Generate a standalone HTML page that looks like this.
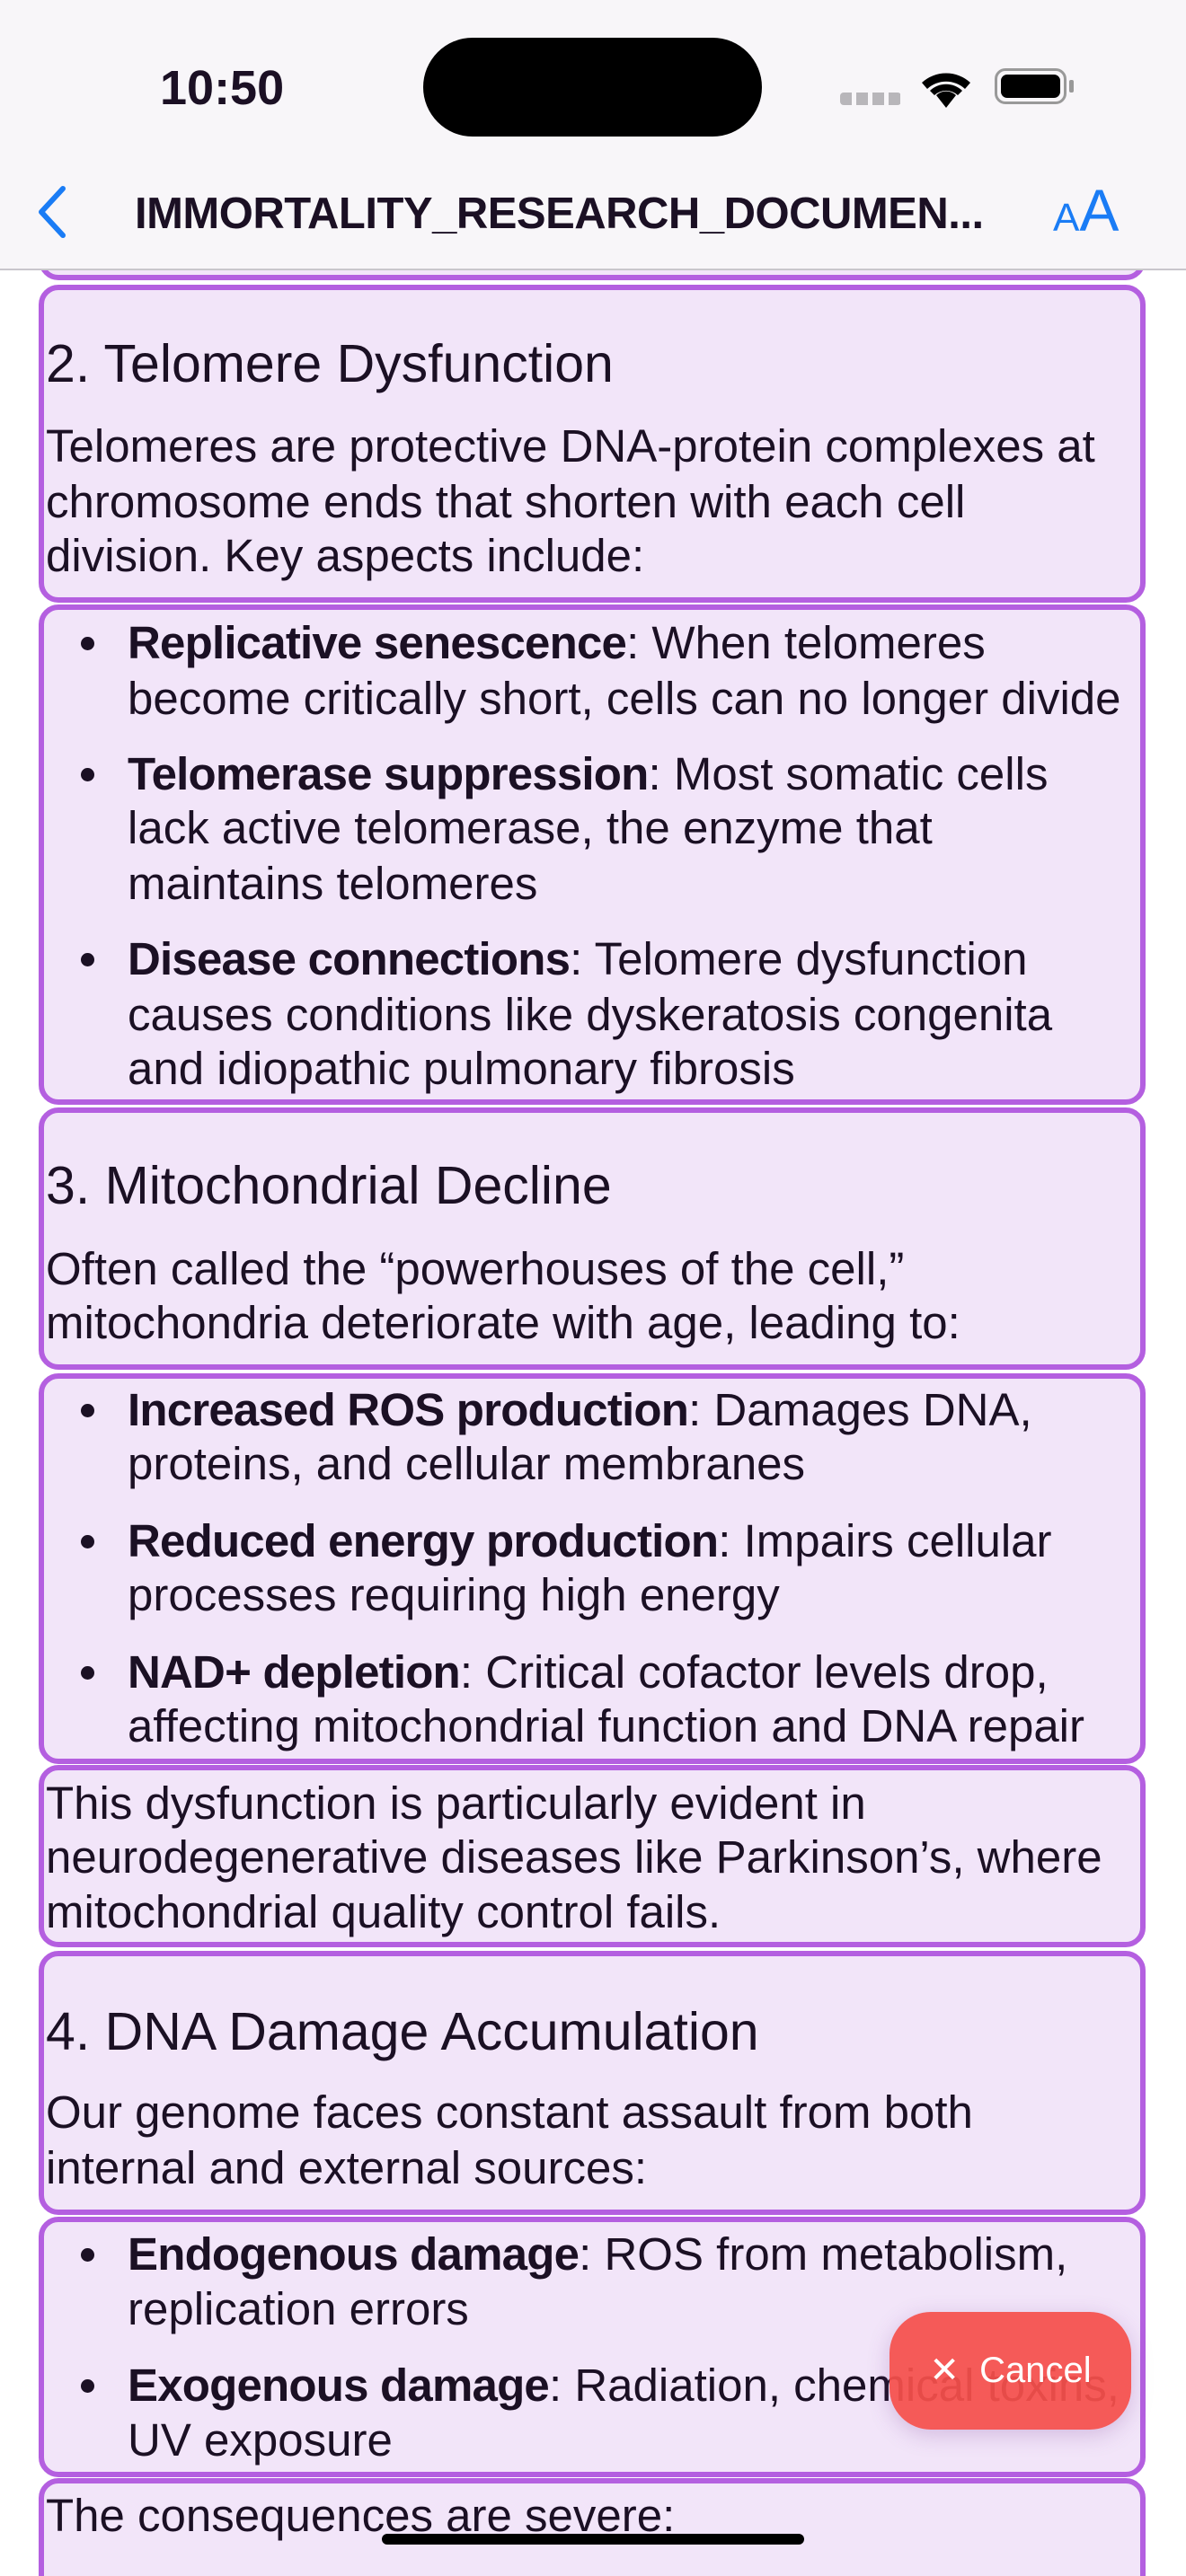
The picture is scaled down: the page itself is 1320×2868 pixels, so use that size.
<!DOCTYPE html>
<html><head><meta charset="utf-8"><style>
*{margin:0;padding:0;box-sizing:border-box}
html,body{width:1320px;height:2868px;overflow:hidden}
body{background:#fff;font-family:"Liberation Sans",sans-serif;color:#1b1024;position:relative}
.box{position:absolute;left:43px;width:1232px;background:#f2e5f9;border:6px solid #b45fe0;border-radius:22px}
.l{position:absolute;left:51px;height:60px;line-height:60px;font-size:51px;white-space:nowrap}
.h{font-size:59px}
.b{left:142px}
.b b{font-weight:bold;letter-spacing:-0.8px}
.dot{position:absolute;left:90px;width:15px;height:15px;border-radius:50%;background:#1b1024}
</style></head><body>
<div class="box" style="top:200px;height:112px"></div>
<div class="box" style="top:317px;height:354px"></div>
<div class="box" style="top:673px;height:557px"></div>
<div class="box" style="top:1233px;height:292px"></div>
<div class="box" style="top:1529px;height:435px"></div>
<div class="box" style="top:1965px;height:203px"></div>
<div class="box" style="top:2172px;height:294px"></div>
<div class="box" style="top:2468px;height:290px"></div>
<div class="box" style="top:2759px;height:140px"></div>

<div class="l h" style="top:375px">2. Telomere Dysfunction</div>
<div class="l" style="top:467px">Telomeres are protective DNA-protein complexes at</div>
<div class="l" style="top:529px">chromosome ends that shorten with each cell</div>
<div class="l" style="top:589px">division. Key aspects include:</div>

<div class="dot" style="top:709px"></div>
<div class="l b" style="top:686px"><b>Replicative senescence</b>: When telomeres</div>
<div class="l b" style="top:748px">become critically short, cells can no longer divide</div>
<div class="dot" style="top:855px"></div>
<div class="l b" style="top:832px"><b>Telomerase suppression</b>: Most somatic cells</div>
<div class="l b" style="top:892px">lack active telomerase, the enzyme that</div>
<div class="l b" style="top:954px">maintains telomeres</div>
<div class="dot" style="top:1061px"></div>
<div class="l b" style="top:1038px"><b>Disease connections</b>: Telomere dysfunction</div>
<div class="l b" style="top:1100px">causes conditions like dyskeratosis congenita</div>
<div class="l b" style="top:1160px">and idiopathic pulmonary fibrosis</div>

<div class="l h" style="top:1290px">3. Mitochondrial Decline</div>
<div class="l" style="top:1383px">Often called the “powerhouses of the cell,”</div>
<div class="l" style="top:1443px">mitochondria deteriorate with age, leading to:</div>

<div class="dot" style="top:1563px"></div>
<div class="l b" style="top:1540px"><b>Increased ROS production</b>: Damages DNA,</div>
<div class="l b" style="top:1600px">proteins, and cellular membranes</div>
<div class="dot" style="top:1709px"></div>
<div class="l b" style="top:1686px"><b>Reduced energy production</b>: Impairs cellular</div>
<div class="l b" style="top:1746px">processes requiring high energy</div>
<div class="dot" style="top:1855px"></div>
<div class="l b" style="top:1832px"><b>NAD+ depletion</b>: Critical cofactor levels drop,</div>
<div class="l b" style="top:1892px">affecting mitochondrial function and DNA repair</div>

<div class="l" style="top:1978px">This dysfunction is particularly evident in</div>
<div class="l" style="top:2038px">neurodegenerative diseases like Parkinson’s, where</div>
<div class="l" style="top:2099px">mitochondrial quality control fails.</div>

<div class="l h" style="top:2232px">4. DNA Damage Accumulation</div>
<div class="l" style="top:2322px">Our genome faces constant assault from both</div>
<div class="l" style="top:2384px">internal and external sources:</div>

<div class="dot" style="top:2503px"></div>
<div class="l b" style="top:2480px"><b>Endogenous damage</b>: ROS from metabolism,</div>
<div class="l b" style="top:2541px">replication errors</div>
<div class="dot" style="top:2649px"></div>
<div class="l b" style="top:2626px"><b>Exogenous damage</b>: Radiation, chemical toxins,</div>
<div class="l b" style="top:2687px">UV exposure</div>
<div class="l" style="top:2771px">The consequences are severe:</div>

<!-- header -->
<div style="position:absolute;left:0;top:0;width:1320px;height:301px;background:#f8f6f9;border-bottom:2px solid #c9c6cc"></div>
<div style="position:absolute;left:178px;top:66px;font-size:54px;font-weight:bold;line-height:64px">10:50</div>
<div style="position:absolute;left:471px;top:42px;width:377px;height:110px;border-radius:55px;background:#000"></div>
<div style="position:absolute;left:935px;top:103px;width:68px;height:14px;background:repeating-linear-gradient(90deg,#b8b6ba 0 13px,transparent 13px 18px);border-radius:4px"></div>
<svg style="position:absolute;left:1022px;top:76px" width="62" height="44" viewBox="0 0 62 44"><path d="M31 44 L20 30 A16 16 0 0 1 42 30Z M4 16 A40 40 0 0 1 58 16 L52 23 A31 31 0 0 0 10 23Z M13 25 A26 26 0 0 1 49 25 L44 30 A19 19 0 0 0 18 30Z" fill="#000"/></svg>
<div style="position:absolute;left:1107px;top:76px;width:80px;height:40px;border:3px solid #999;border-radius:12px;padding:4px"><div style="width:100%;height:100%;background:#000;border-radius:7px"></div></div>
<div style="position:absolute;left:1190px;top:89px;width:5px;height:14px;background:#999;border-radius:2px"></div>
<svg style="position:absolute;left:38px;top:206px" width="40" height="60" viewBox="0 0 40 60"><path d="M32 4 L8 30 L32 56" stroke="#1a7cf5" stroke-width="6" fill="none" stroke-linecap="round" stroke-linejoin="round"/></svg>
<div style="position:absolute;left:150px;top:206px;font-size:49px;font-weight:bold;line-height:64px;letter-spacing:-0.5px">IMMORTALITY_RESEARCH_DOCUMEN...</div>
<div style="position:absolute;left:1172px;top:198px;color:#1a7cf5;line-height:72px;white-space:nowrap"><span style="font-size:44px">A</span><span style="font-size:66px">A</span></div>

<!-- cancel -->
<div style="position:absolute;left:990px;top:2574px;width:269px;height:131px;border-radius:46px;background:rgba(245,80,75,0.93);box-shadow:0 6px 24px rgba(120,60,150,0.25);color:#fff;font-size:40px;line-height:131px;text-align:center">✕&nbsp; Cancel</div>

<div style="position:absolute;left:425px;top:2821px;width:470px;height:12px;border-radius:6px;background:#000"></div>
</body></html>
